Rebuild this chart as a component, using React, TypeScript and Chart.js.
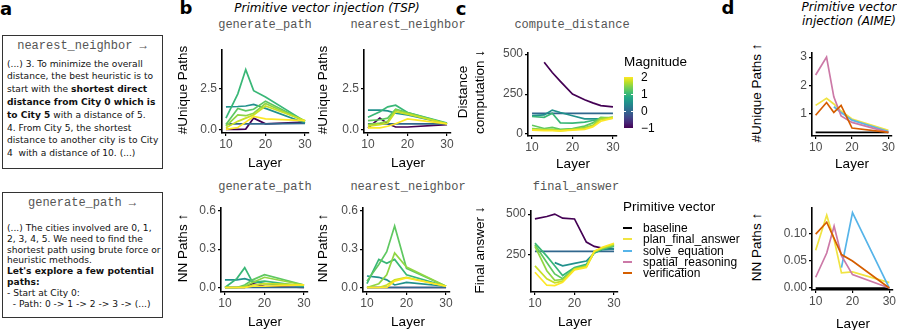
import React, { useEffect, useRef } from "react";
import { Chart, registerables } from "chart.js";
Chart.register(...registerables);

// ---------------- data ----------------
const X_TICKS = [10, 20, 30];
const X_LABELS = ["10", "20", "30"];

const LAYERS_B = [10, 13, 15, 17, 20, 30];
const LAYERS_C = [10, 13, 15, 17, 20, 23, 25, 27, 30];
const LAYERS_D = [10, 13, 15, 17, 20, 30];

const MAGNITUDES = [-1, 0, 0.5, 1, 1.25, 1.5, 1.75, 2];

// b: generate_path, #Unique Paths (one row per magnitude)
const B_GEN_UNIQUE = [
  [0.0, 0.0, 0.02, 0.7, 0.35, 0.45],
  [0.35, 0.35, 0.35, 0.35, 0.35, 0.38],
  [1.4, 1.42, 1.45, 1.55, 1.3, 0.4],
  [0.7, 2.2, 3.7, 2.4, 2.0, 0.5],
  [0.3, 1.3, 1.15, 1.25, 1.75, 0.5],
  [0.2, 0.9, 0.85, 1.0, 1.6, 0.5],
  [0.1, 0.5, 0.7, 0.9, 1.45, 0.55],
  [0.0, 0.12, 0.45, 0.8, 0.65, 0.55],
];
// b: nearest_neighbor, #Unique Paths
const B_NN_UNIQUE = [
  [0.1, 0.7, 0.35, 0.15, 0.15, 0.3],
  [0.35, 0.35, 0.35, 0.35, 0.35, 0.35],
  [1.2, 1.2, 1.15, 1.0, 0.9, 0.35],
  [0.75, 1.1, 1.4, 1.5, 1.05, 0.4],
  [0.55, 0.6, 0.7, 1.25, 1.05, 0.35],
  [0.3, 0.4, 0.5, 1.2, 1.0, 0.35],
  [0.2, 0.3, 0.4, 1.1, 0.95, 0.35],
  [0.1, 0.1, 0.2, 0.35, 0.65, 0.35],
];
// b: generate_path, NN Paths
const B_GEN_NN = [
  [0.0, 0.0, 0.0, 0.03, 0.01, 0.0],
  [0.0, 0.0, 0.0, 0.0, 0.0, 0.0],
  [0.06, 0.06, 0.07, 0.05, 0.03, 0.01],
  [0.0, 0.07, 0.155, 0.04, 0.05, 0.01],
  [0.0, 0.0, 0.02, 0.06, 0.1, 0.02],
  [0.0, 0.0, 0.01, 0.04, 0.08, 0.02],
  [0.0, 0.0, 0.0, 0.02, 0.03, 0.02],
  [0.0, 0.0, 0.0, 0.01, 0.01, 0.02],
];
// b: nearest_neighbor, NN Paths
const B_NN_NN = [
  [0.0, 0.0, 0.0, 0.0, 0.0, 0.0],
  [0.0, 0.0, 0.0, 0.0, 0.0, 0.0],
  [0.09, 0.08, 0.06, 0.02, 0.04, 0.01],
  [0.03, 0.22, 0.19, 0.22, 0.1, 0.01],
  [0.05, 0.18, 0.28, 0.48, 0.15, 0.01],
  [0.0, 0.03, 0.1, 0.27, 0.16, 0.01],
  [0.0, 0.0, 0.02, 0.06, 0.08, 0.01],
  [0.0, 0.0, 0.0, 0.05, 0.075, 0.01],
];
// c: compute_distance
const C_DIST = [
  [null, 450, 385, 330, 250, 215, 195, 178, 170],
  [130, 130, 130, 130, 130, 130, 130, 130, 130],
  [115, 120, 150, 135, 115, 95, 95, 95, 100],
  [110, 105, 130, 70, 68, 75, 85, 95, 105],
  [55, 35, 42, 30, 35, 50, 70, 105, 100],
  [35, 30, 30, 25, 30, 40, 55, 100, 105],
  [25, 25, 25, 20, 28, 35, 50, 90, 105],
  [25, 22, 22, 20, 25, 30, 45, 80, 100],
];
// c: final_answer
const C_FINAL = [
  [470, 485, 500, 475, 470, 327, 300, 290, 285],
  [270, 270, 270, 270, 270, 270, 270, 270, 270],
  [null, null, 200, 180, 195, 210, 260, 280, 285],
  [320, 240, 180, 120, 170, 190, 260, 285, 300],
  [310, 200, 130, 100, 165, 180, 265, 285, 305],
  [300, 150, 90, 95, 160, 175, 265, 290, 310],
  [180, 100, 75, 85, 160, 175, 270, 290, 315],
  [140, 60, 58, 78, 155, 170, 270, 295, 320],
];

// d: AIME
const VECTORS = ["baseline", "plan_final_answer", "solve_equation", "spatial_reasoning", "verification"];
const VECTOR_COLORS = ["#000000", "#F0E442", "#56B4E9", "#CC79A7", "#D55E00"];
const D_UNIQUE = [
  [0.35, 0.35, 0.35, 0.35, 0.35, 0.35],
  [1.3, 1.55, 1.35, 1.1, 0.82, 0.42],
  [null, null, 1.25, 1.05, 0.78, 0.38],
  [2.37, 3.0, 1.6, 0.93, 0.7, 0.35],
  [0.95, 1.4, 1.05, 1.3, 0.5, 0.35],
];
const D_NN = [
  [0, 0, 0, 0, 0, 0],
  [0.07, 0.135, 0.09, 0.028, 0.03, 0.01],
  [null, null, null, 0.038, 0.14, 0.0],
  [0.02, 0.065, 0.115, 0.06, 0.025, 0.0],
  [0.1, 0.122, 0.092, 0.062, 0.05, 0.0],
];

const MAG_LEGEND_TICKS = [2, 1, 0, -1];
const MAG_LEGEND_LABELS = ["2", "1", "0", "\u22121"];

// ---------------- styles ----------------
const SANS = '"Liberation Sans", Arial, sans-serif';
const DEJAVU = '"DejaVu Sans", sans-serif';
const MONO = '"Liberation Mono", "Courier New", monospace';

const VIRIDIS = ["#440154", "#482475", "#414487", "#355F8D", "#2A788E", "#21918C", "#22A884", "#44BF70", "#7AD151", "#BDDF26", "#FDE725"];
function hexToRgb(h: string) {
  return [parseInt(h.slice(1, 3), 16), parseInt(h.slice(3, 5), 16), parseInt(h.slice(5, 7), 16)];
}
function viridis(t: number) {
  const p = Math.max(0, Math.min(1, t)) * (VIRIDIS.length - 1);
  const i = Math.min(VIRIDIS.length - 2, Math.floor(p));
  const f = p - i;
  const a = hexToRgb(VIRIDIS[i]);
  const b = hexToRgb(VIRIDIS[i + 1]);
  const c = a.map((v, k) => Math.round(v + (b[k] - v) * f));
  return `rgb(${c[0]},${c[1]},${c[2]})`;
}
const magColor = (m: number) => viridis((m + 1) / 3);

type Series = { color: string; values: (number | null)[] };
type PanelSpec = {
  left: number; right: number; top: number; bottom: number;
  yMin: number; yMax: number; yTicks: number[]; yLabels: string[];
  layers: number[]; series: Series[];
};

const YW = 40, TP = 6, RP = 14, XH = 30;

function LinePanel({ spec }: { spec: PanelSpec }) {
  const ref = useRef<HTMLCanvasElement>(null);
  const w = spec.right - spec.left + YW + RP;
  const h = spec.bottom - spec.top + TP + XH;
  useEffect(() => {
    const n = spec.series.length;
    const tickFont = { family: SANS, size: 12 };
    const chart = new Chart(ref.current!, {
      type: "line",
      data: {
        datasets: spec.series.map((s, i) => ({
          data: spec.layers.map((l, k) => ({ x: l, y: s.values[k] })),
          borderColor: s.color,
          backgroundColor: s.color,
          borderWidth: 1.7,
          pointRadius: 0,
          tension: 0,
          spanGaps: false,
          order: n - i,
        })),
      },
      options: {
        animation: false,
        responsive: false,
        maintainAspectRatio: false,
        events: [],
        layout: { padding: { left: 0, right: RP, top: TP, bottom: 0 } },
        plugins: { legend: { display: false }, tooltip: { enabled: false } },
        scales: {
          x: {
            type: "linear",
            min: 9,
            max: 31,
            afterBuildTicks: (a: any) => { a.ticks = X_TICKS.map((v) => ({ value: v })); },
            afterFit: (s: any) => { s.height = XH; },
            ticks: { font: tickFont, color: "#4d4d4d", padding: 1, autoSkip: false, maxRotation: 0, callback: (_v: any, i: number) => X_LABELS[i] },
            grid: { drawOnChartArea: false, drawTicks: true, tickLength: 3, color: "#000", tickColor: "#000", lineWidth: 1.2 },
            border: { display: true, color: "#000", width: 1.6 },
          },
          y: {
            type: "linear",
            min: spec.yMin,
            max: spec.yMax,
            afterBuildTicks: (a: any) => { a.ticks = spec.yTicks.map((v) => ({ value: v })); },
            afterFit: (s: any) => { s.width = YW; },
            ticks: { font: tickFont, color: "#4d4d4d", padding: 2, autoSkip: false, callback: (_v: any, i: number) => spec.yLabels[i] },
            grid: { drawOnChartArea: false, drawTicks: true, tickLength: 3, color: "#000", tickColor: "#000", lineWidth: 1.2 },
            border: { display: true, color: "#000", width: 1.6 },
          },
        },
      } as any,
    });
    return () => chart.destroy();
  }, []);
  return (
    <canvas
      ref={ref}
      width={w}
      height={h}
      style={{ position: "absolute", left: spec.left - YW, top: spec.top - TP, width: w, height: h }}
    />
  );
}

const magSeries = (rows: (number | null)[][]): Series[] =>
  rows.map((r, i) => ({ color: magColor(MAGNITUDES[i]), values: r }));
const vecSeries = (rows: (number | null)[][]): Series[] =>
  rows.map((r, i) => ({ color: VECTOR_COLORS[i], values: r }));

const PANELS: PanelSpec[] = [
  { left: 222, right: 309, top: 47, bottom: 133, yMin: -0.22, yMax: 4.9, yTicks: [0, 2.5], yLabels: ["0.0", "2.5"], layers: LAYERS_B, series: magSeries(B_GEN_UNIQUE) },
  { left: 364, right: 451, top: 47, bottom: 133, yMin: -0.22, yMax: 4.9, yTicks: [0, 2.5], yLabels: ["0.0", "2.5"], layers: LAYERS_B, series: magSeries(B_NN_UNIQUE) },
  { left: 221, right: 308, top: 205, bottom: 292, yMin: -0.035, yMax: 0.62, yTicks: [0, 0.3, 0.6], yLabels: ["0.0", "0.3", "0.6"], layers: LAYERS_B, series: magSeries(B_GEN_NN) },
  { left: 363, right: 450, top: 205, bottom: 292, yMin: -0.035, yMax: 0.62, yTicks: [0, 0.3, 0.6], yLabels: ["0.0", "0.3", "0.6"], layers: LAYERS_B, series: magSeries(B_NN_NN) },
  { left: 528, right: 617, top: 50, bottom: 136, yMin: -12, yMax: 506, yTicks: [0, 250, 500], yLabels: ["0", "250", "500"], layers: LAYERS_C, series: magSeries(C_DIST) },
  { left: 531, right: 618, top: 208, bottom: 292, yMin: 18, yMax: 518, yTicks: [250, 500], yLabels: ["250", "500"], layers: LAYERS_C, series: magSeries(C_FINAL) },
  { left: 812, right: 892, top: 50, bottom: 136, yMin: 0.22, yMax: 3.14, yTicks: [1, 2, 3], yLabels: ["1", "2", "3"], layers: LAYERS_D, series: vecSeries(D_UNIQUE) },
  { left: 812, right: 893, top: 205, bottom: 290, yMin: -0.0036, yMax: 0.148, yTicks: [0, 0.05, 0.1], yLabels: ["0.00", "0.05", "0.10"], layers: LAYERS_D, series: vecSeries(D_NN) },
];

function T({ x, y, children, style, rot }: any) {
  return (
    <div
      style={{
        position: "absolute", left: x, top: y, whiteSpace: "nowrap", lineHeight: 1,
        transform: `translate(-50%,-50%)${rot ? " rotate(-90deg)" : ""}`,
        fontFamily: SANS, fontSize: 13.5, color: "#000", ...style,
      }}
    >
      {children}
    </div>
  );
}

const BOX1_LINES = [
  <>(...) 3. To minimize the overall</>,
  <>distance, the best heuristic is to</>,
  <>start with the <b>shortest direct</b></>,
  <><b>distance from City 0 which is</b></>,
  <><b>to City 5</b> with a distance of 5.</>,
  <>4. From City 5, the shortest</>,
  <>distance to another city is to City</>,
  <>4&nbsp; with a distance of 10. (...)</>,
];
const BOX2_LINES = [
  <>(...) The cities involved are 0, 1,</>,
  <>2, 3, 4, 5. We need to find the</>,
  <>shortest path using brute force or</>,
  <>heuristic methods.</>,
  <><b>Let's explore a few potential</b></>,
  <><b>paths:</b></>,
  <>- Start at City 0:</>,
  <>&nbsp;&nbsp;- Path: 0 -&gt; 1 -&gt; 2 -&gt; 3 -&gt; (...)</>,
];

function TextBox({ top, height, title, titleY, lines, firstY, step }: any) {
  return (
    <>
      <div style={{ position: "absolute", left: 2, top, width: 161, height, border: "1px solid #333", boxSizing: "border-box" }} />
      <T x={82} y={titleY} style={{ fontFamily: MONO, fontSize: 12, color: "#555" }}>{title}</T>
      {lines.map((l: any, i: number) => (
        <div key={i} style={{ position: "absolute", left: 7, top: firstY + i * step - 6, lineHeight: "12px", fontFamily: DEJAVU, fontSize: 9.1, whiteSpace: "nowrap", color: "#111" }}>{l}</div>
      ))}
    </>
  );
}

const GRAD = `linear-gradient(to top, ${VIRIDIS.join(", ")})`;

export default function App() {
  const lab = { fontFamily: DEJAVU, fontWeight: "bold", fontSize: 18 };
  const sub = { fontFamily: MONO, fontSize: 12, color: "#555" };
  const ital = { fontFamily: DEJAVU, fontStyle: "italic", fontSize: 12 };
  return (
    <div style={{ position: "absolute", left: 0, top: 0, width: 897, height: 330, overflow: "hidden", background: "#fff" }}>
      {PANELS.map((p, i) => <LinePanel key={i} spec={p} />)}

      {/* panel labels */}
      <T x={6} y={9} style={lab}>a</T>
      <T x={186} y={8} style={lab}>b</T>
      <T x={461} y={9} style={lab}>c</T>
      <T x={728} y={8} style={lab}>d</T>

      {/* panel a */}
      <TextBox top={35} height={134} title={"nearest_neighbor \u2192"} titleY={46} lines={BOX1_LINES} firstY={63.5} step={12.8} />
      <TextBox top={192} height={126} title={"generate_path \u2192"} titleY={203} lines={BOX2_LINES} firstY={228} step={10.8} />

      {/* titles */}
      <T x={327} y={8} style={ital}>Primitive vector injection (TSP)</T>
      <T x={849} y={7} style={ital}>Primitive vector</T>
      <T x={849} y={21} style={ital}>injection (AIME)</T>
      <T x={265} y={25} style={sub}>generate_path</T>
      <T x={408} y={25} style={sub}>nearest_neighbor</T>
      <T x={572} y={25} style={sub}>compute_distance</T>
      <T x={265} y={187} style={sub}>generate_path</T>
      <T x={408} y={187} style={sub}>nearest_neighbor</T>
      <T x={576} y={187} style={sub}>final_answer</T>

      {/* axis titles */}
      <T x={183} y={90} rot>#Unique Paths</T>
      <T x={323} y={90} rot>#Unique Paths</T>
      <T x={183} y={248} rot>NN Paths &#8593;</T>
      <T x={323} y={248} rot>NN Paths &#8593;</T>
      <T x={463} y={92} rot>Distance</T>
      <T x={480} y={92} rot>computation &#8595;</T>
      <T x={480} y={250} rot>Final answer &#8595;</T>
      <T x={757} y={93} rot>#Unique Paths &#8593;</T>
      <T x={757} y={247} rot>NN Paths &#8593;</T>

      <T x={265} y={163}>Layer</T>
      <T x={408} y={163}>Layer</T>
      <T x={265} y={322}>Layer</T>
      <T x={408} y={322}>Layer</T>
      <T x={573} y={164}>Layer</T>
      <T x={575} y={322}>Layer</T>
      <T x={852} y={164}>Layer</T>
      <T x={853} y={324}>Layer</T>

      {/* Magnitude legend */}
      <div style={{ position: "absolute", left: 624, top: 55, fontFamily: SANS, fontSize: 13.5, lineHeight: "14px" }}>Magnitude</div>
      <div style={{ position: "absolute", left: 624, top: 77, width: 9, height: 51, background: GRAD }} />
      {MAG_LEGEND_TICKS.map((m, i) => {
        const y = 128 - ((m + 1) / 3) * 51;
        return (
          <React.Fragment key={i}>
            {m > -1 && m < 2 && <div style={{ position: "absolute", left: 624, top: y - 0.5, width: 2, height: 1, background: "#fff" }} />}
            {m > -1 && m < 2 && <div style={{ position: "absolute", left: 631, top: y - 0.5, width: 2, height: 1, background: "#fff" }} />}
            <div style={{ position: "absolute", left: 641, top: y - 7, fontFamily: SANS, fontSize: 12, lineHeight: "14px", color: "#000" }}>{MAG_LEGEND_LABELS[i]}</div>
          </React.Fragment>
        );
      })}

      {/* Primitive vector legend */}
      <div style={{ position: "absolute", left: 623, top: 200, fontFamily: SANS, fontSize: 13.5, lineHeight: "14px" }}>Primitive vector</div>
      {VECTORS.map((v, i) => (
        <React.Fragment key={v}>
          <div style={{ position: "absolute", left: 623, top: 227 + i * 11.3, width: 9, height: 2, background: VECTOR_COLORS[i] }} />
          <div style={{ position: "absolute", left: 643, top: 221 + i * 11.3, fontFamily: SANS, fontSize: 12, lineHeight: "14px" }}>{v}</div>
        </React.Fragment>
      ))}
    </div>
  );
}
